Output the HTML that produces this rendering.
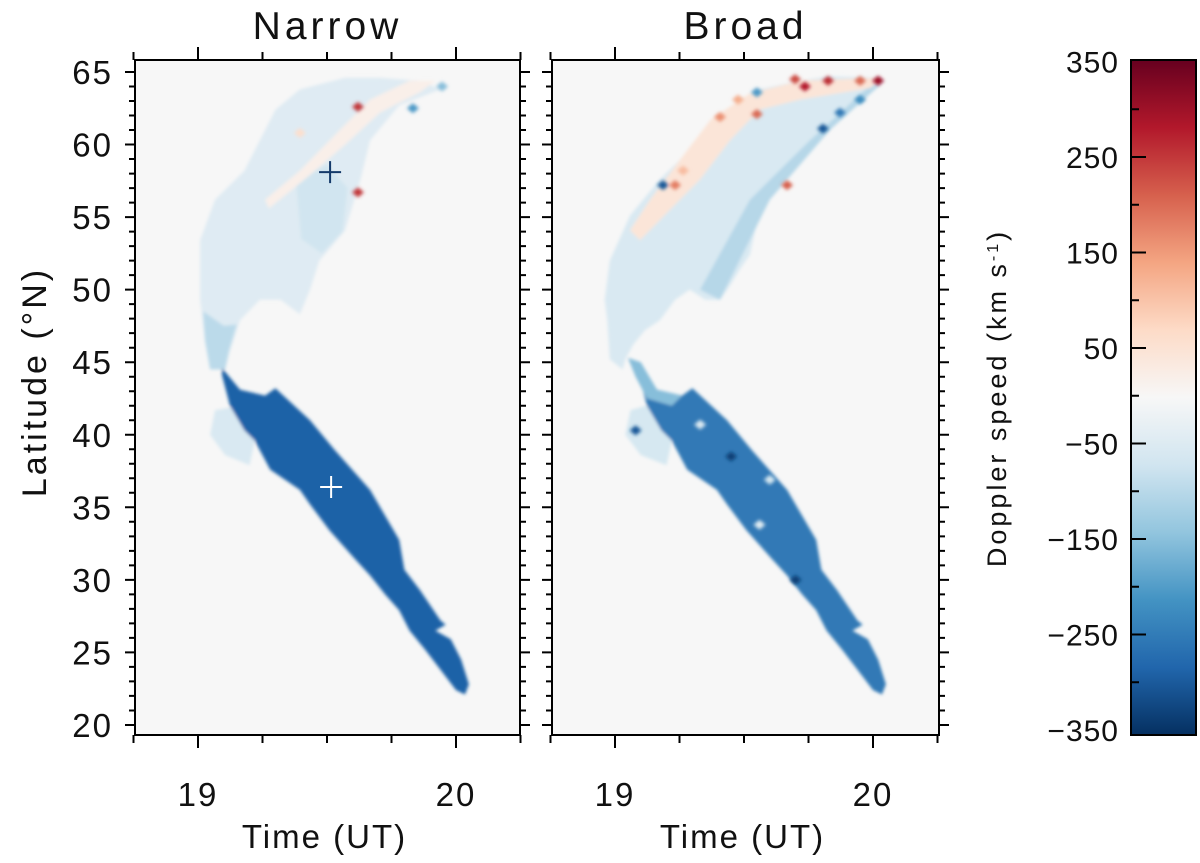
<!DOCTYPE html>
<html><head><meta charset="utf-8">
<style>
body{margin:0;background:#fff;}
svg{display:block;font-family:"Liberation Sans","DejaVu Sans",sans-serif;}
</style></head>
<body>
<svg id="chart" width="1200" height="863" viewBox="0 0 1200 863">
<defs>
<filter id="blur" x="-5%" y="-5%" width="110%" height="110%"><feGaussianBlur stdDeviation="1.6"/></filter>
<filter id="blur2" x="-50%" y="-50%" width="200%" height="200%"><feGaussianBlur stdDeviation="1.8"/></filter>
<linearGradient id="cbgrad" x1="0" y1="1" x2="0" y2="0">
<stop offset="0" stop-color="#053061"/><stop offset="0.1" stop-color="#2166ac"/><stop offset="0.2" stop-color="#4393c3"/><stop offset="0.3" stop-color="#92c5de"/><stop offset="0.4" stop-color="#d1e5f0"/><stop offset="0.5" stop-color="#f7f7f7"/><stop offset="0.6" stop-color="#fddbc7"/><stop offset="0.7" stop-color="#f4a582"/><stop offset="0.8" stop-color="#d6604d"/><stop offset="0.9" stop-color="#b2182b"/><stop offset="1" stop-color="#67001f"/>
</linearGradient>
<clipPath id="clipL"><rect x="135" y="60" width="385" height="675"/></clipPath>
<clipPath id="clipR"><rect x="552" y="60" width="387" height="675"/></clipPath>
</defs>
<g id="root"></g>
</svg>
<script>
// ---- data (time in UT hours, latitude in deg N, speed km/s) ----
const xTicks = [19, 20];
const yTicks = [20, 25, 30, 35, 40, 45, 50, 55, 60, 65];
const cbTicks = [350, 250, 150, 50, -50, -150, -250, -350];
const panelTitles = ["Narrow", "Broad"];

const narrowRegionValues = [-45, -95, -70, 20, -55, -285];
const narrowRegions = [
 [[19.008,53.4],[19.066,56.2],[19.18,58.2],[19.30,62.4],[19.395,63.8],[19.57,64.6],[19.705,64.6],[19.86,64.4],[19.94,63.8],[19.78,62.7],[19.667,60.3],[19.63,57.6],[19.57,54.1],[19.47,52.0],[19.434,50.0],[19.395,48.3],[19.32,49.3],[19.24,49.3],[19.163,47.9],[19.124,45.8],[19.105,44.5],[19.047,44.5],[19.027,46.5],[19.008,49.3]],
 [[19.02,48.5],[19.10,47.5],[19.15,47.6],[19.12,45.8],[19.105,44.5],[19.047,44.5],[19.027,46.5]],
 [[19.38,57.5],[19.50,58.6],[19.58,57.0],[19.56,54.0],[19.48,52.5],[19.40,53.5]],
 [[19.26,56.2],[19.395,58.2],[19.55,61.0],[19.667,63.1],[19.82,64.4],[19.92,64.4],[19.86,63.6],[19.705,62.2],[19.57,60.0],[19.434,57.9],[19.275,55.6]],
 [[19.066,41.7],[19.163,42.0],[19.22,39.6],[19.20,37.9],[19.105,38.6],[19.047,40.0]],
 [[19.093,44.6],[19.163,43.1],[19.26,42.7],[19.30,43.2],[19.434,41.0],[19.53,38.95],[19.667,36.2],[19.78,32.75],[19.80,30.7],[19.86,29.3],[19.94,27.2],[19.96,26.9],[19.92,26.5],[19.98,25.9],[20.02,24.5],[20.05,22.8],[20.035,22.1],[20.00,22.4],[19.94,23.8],[19.88,25.2],[19.82,26.5],[19.78,27.9],[19.725,29.0],[19.667,30.3],[19.61,31.4],[19.51,33.4],[19.434,35.2],[19.395,36.2],[19.28,37.6],[19.22,39.6],[19.18,40.3],[19.124,42.0],[19.093,44.1]]
];
const narrowSpotT = [19.62, 19.62, 19.395, 19.833, 19.946];
const narrowSpotLat = [62.6, 56.7, 60.8, 62.5, 64.0];
const narrowSpotV = [250, 250, 60, -200, -150];
const narrowCrossT = [19.512, 19.516];
const narrowCrossLat = [58.1, 36.4];

const broadRegionValues = [-55, -100, 45, -60, -250, -150];
const broadRegions = [
 [[18.96,49.3],[18.98,52.0],[19.058,55.1],[19.174,57.6],[19.29,59.6],[19.407,62.0],[19.56,63.8],[19.717,64.4],[19.833,64.7],[20.035,64.6],[20.027,64.1],[19.95,63.1],[19.833,61.0],[19.717,58.9],[19.60,56.9],[19.543,54.1],[19.523,52.4],[19.484,51.4],[19.446,50.3],[19.407,49.3],[19.35,49.3],[19.29,50.0],[19.233,49.3],[19.174,47.9],[19.116,47.2],[19.07,46.2],[19.04,45.2],[19.03,44.5],[18.98,45.2],[18.97,47.9]],
 [[19.407,49.3],[19.60,56.2],[19.833,61.0],[20.027,64.1],[19.99,64.1],[19.756,60.3],[19.523,56.2],[19.33,50.0]],
 [[19.058,54.1],[19.136,56.2],[19.25,58.9],[19.37,61.7],[19.52,63.5],[19.717,64.4],[20.035,64.6],[19.99,63.9],[19.717,63.1],[19.56,62.4],[19.446,60.3],[19.33,57.6],[19.213,55.5],[19.097,53.4]],
 [[19.06,41.7],[19.16,42.2],[19.22,39.6],[19.20,37.9],[19.10,38.6],[19.04,40.0]],
 [[19.093,44.6],[19.163,43.1],[19.26,42.7],[19.30,43.2],[19.434,41.0],[19.53,38.95],[19.667,36.2],[19.78,32.75],[19.80,30.7],[19.86,29.3],[19.94,27.2],[19.96,26.9],[19.92,26.5],[19.98,25.9],[20.02,24.5],[20.05,22.8],[20.035,22.1],[20.00,22.4],[19.94,23.8],[19.88,25.2],[19.82,26.5],[19.78,27.9],[19.725,29.0],[19.667,30.3],[19.61,31.4],[19.51,33.4],[19.434,35.2],[19.395,36.2],[19.28,37.6],[19.22,39.6],[19.18,40.3],[19.124,42.0],[19.093,44.1]],
 [[19.05,45.3],[19.10,45.0],[19.163,43.1],[19.26,42.7],[19.22,42.0],[19.124,42.5],[19.08,44.0]]
];
const broadSpotT = [19.407,19.477,19.698,19.736,19.826,19.95,20.02,19.264,19.233,19.667,19.55,19.186,19.55,19.806,19.872,19.95,19.56,19.60,19.33,19.08,19.45,19.70];
const broadSpotLat = [61.9,63.1,64.5,64.0,64.4,64.4,64.4,58.2,57.2,57.2,62.1,57.2,63.6,61.1,62.2,63.1,33.8,36.9,40.7,40.3,38.5,30.0];
const broadSpotV = [160,130,230,280,260,200,300,110,180,210,200,-300,-200,-300,-250,-220,-40,-60,-50,-300,-330,-330];

// ---- helpers ----
const NS = "http://www.w3.org/2000/svg";
const root = document.getElementById("root");
const PY0 = 60, PY1 = 735;
function yScale(lat){ return 72 + (65 - lat) * 14.51; }
function xScaleFor(x0){ return t => x0 + 63 + (t - 19) * 258; }
const stops = ["#053061","#2166ac","#4393c3","#92c5de","#d1e5f0","#f7f7f7","#fddbc7","#f4a582","#d6604d","#b2182b","#67001f"];
function hex(c){ return [1,3,5].map(i=>parseInt(c.substr(i,2),16)); }
function cmap(v){
  let f = (Math.max(-350, Math.min(350, v)) + 350) / 700 * 10;
  let i = Math.min(9, Math.floor(f)), r = f - i;
  const a = hex(stops[i]), b = hex(stops[i+1]);
  return "rgb(" + a.map((c,k)=>Math.round(c + (b[k]-c)*r)).join(",") + ")";
}
function el(tag, attrs, parent){
  const e = document.createElementNS(NS, tag);
  for (const k in attrs) e.setAttribute(k, attrs[k]);
  (parent || root).appendChild(e);
  return e;
}
function cbY(v){ return 61.5 + (350 - v) * 0.955; }

function drawPanel(x0, x1, title, regions, regionValues, spotT, spotLat, spotV, crossT, crossLat, clipId, key){
  const xs = xScaleFor(x0);
  const g = el("g", {"clip-path": "url(#" + clipId + ")"});
  
  
  const bg = el("rect", {x: x0, y: PY0, width: x1 - x0, height: PY1 - PY0, fill: "#f7f7f7"}, g);
  
  
  const gb = el("g", {filter: "url(#blur)"}, g);
  regions.forEach((poly, i) => {
    const p = el("polygon", {points: poly.map(q => xs(q[0]).toFixed(1) + "," + yScale(q[1]).toFixed(1)).join(" "), fill: cmap(regionValues[i])}, gb);
    
    
  });
  const gs = el("g", {filter: "url(#blur2)"}, g);
  spotT.forEach((t, i) => {
    const cx = xs(t), cy = yScale(spotLat[i]);
    const s = el("polygon", {points: [cx-6,cy, cx,cy-5, cx+6,cy, cx,cy+5].join(" "), fill: cmap(spotV[i])}, gs);
    
    
  });
  crossT.forEach((t, i) => {
    const cx = xs(t), cy = yScale(crossLat[i]);
    const col = i === 0 ? "#143a6a" : "#ffffff";
    const c = el("path", {d: `M${cx-11},${cy}H${cx+11}M${cx},${cy-11}V${cy+11}`, stroke: col, "stroke-width": 2, fill: "none"});
    
    
  });
  const fr = el("rect", {x: x0, y: PY0, width: x1 - x0, height: PY1 - PY0, fill: "none", stroke: "#000", "stroke-width": 2});
  
  
  let d = "";
  for (let lat = 20; lat <= 65; lat++) {
    const y = yScale(lat), len = lat % 5 === 0 ? 10 : 6;
    d += `M${x0},${y}h${-len}M${x1},${y}h${len}`;
  }
  for (let t = 18.75; t <= 20.26; t += 0.25) {
    const x = xs(t), len = Math.abs(t - Math.round(t)) < 0.01 ? 13 : 8;
    d += `M${x},${PY0}v${-len}M${x},${PY1}v${len}`;
  }
  const tk = el("path", {d: d, stroke: "#000", "stroke-width": 2, fill: "none"});
  
  
  xTicks.forEach(t => {
    const tx = el("text", {x: xs(t), y: 806, "font-size": 33, "text-anchor": "middle", fill: "#111", "letter-spacing": 2});
    tx.textContent = t;
    
    
  });
  const xt = el("text", {x: (x0 + x1) / 2 - 3, y: 848, "font-size": 33, "text-anchor": "middle", fill: "#111", "letter-spacing": 2});
  xt.textContent = "Time  (UT)";
  
  
  const tt = el("text", {x: (x0 + x1) / 2, y: 39, "font-size": 39, "text-anchor": "middle", fill: "#111", "letter-spacing": 4});
  tt.textContent = title;
  
  
}

drawPanel(135, 520, panelTitles[0], narrowRegions, narrowRegionValues, narrowSpotT, narrowSpotLat, narrowSpotV, narrowCrossT, narrowCrossLat, "clipL", "narrow");
drawPanel(552, 939, panelTitles[1], broadRegions, broadRegionValues, broadSpotT, broadSpotLat, broadSpotV, [], [], "clipR", "broad");

yTicks.forEach(v => {
  const t = el("text", {x: 113, y: yScale(v) + 12, "font-size": 33, "text-anchor": "end", fill: "#111", "letter-spacing": 2});
  t.textContent = v;
  
  
});
const yt = el("text", {x: 0, y: 0, "font-size": 34, "text-anchor": "middle", fill: "#111", "letter-spacing": 3, transform: "translate(46,382) rotate(-90)"});
yt.textContent = "Latitude (°N)";



const cb = el("rect", {x: 1131, y: 60, width: 65, height: 675, fill: "url(#cbgrad)", stroke: "#000", "stroke-width": 2});


let cd = "";
for (let v = -300; v <= 300; v += 50) {
  cd += `M1131,${cbY(v)}h${v % 100 === 0 ? 8 : 15}`;
}
const cbt = el("path", {d: cd, stroke: "#000", "stroke-width": 2});


cbTicks.forEach(v => {
  const t = el("text", {x: 1119, y: cbY(v) + 11, "font-size": 30, "text-anchor": "end", fill: "#111", "letter-spacing": 1});
  t.textContent = v < 0 ? "\u2212" + (-v) : v;
  
  
});
const ct = el("text", {x: 0, y: 0, "font-size": 27, "text-anchor": "middle", fill: "#111", "letter-spacing": 3, transform: "translate(1006,398) rotate(-90)"});
ct.innerHTML = 'Doppler speed (km s<tspan baseline-shift="super" font-size="16">-1</tspan>)';


</script>
</body></html>
